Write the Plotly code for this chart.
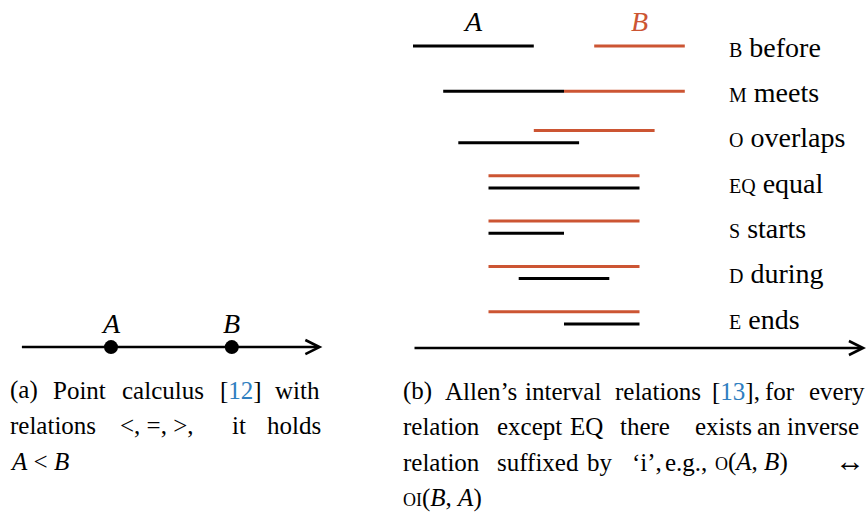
import plotly.graph_objects as go

# ---------------- data ----------------
# (a) point calculus: two points on a time line
point_names = ["A", "B"]
point_pos = [-10, -6]
line_a_span = [-13, -3]

# (b) Allen's interval relations: interval endpoints (time units)
rel_abbrev = ["B", "M", "O", "EQ", "S", "D", "E"]
rel_names = ["before", "meets", "overlaps", "equal", "starts", "during", "ends"]
A_start = [0, 1, 1.5, 2.5, 2.5, 3.5, 5]
A_end = [4, 5, 5.5, 7.5, 5, 6.5, 7.5]
B_start = [6, 5, 4, 2.5, 2.5, 2.5, 2.5]
B_end = [9, 9, 8, 7.5, 7.5, 7.5, 7.5]
line_b_span = [0, 15]

# ---------------- style ----------------
RED = "#CC5533"
BLACK = "#000000"
FONT = "Liberation Serif"
W, H = 867, 520
PX_PER_UNIT = 30.2
X0_PX = 413
ROW_PX = 45.3
Y0_PX = 46
OFF = 0.135          # vertical separation of stacked intervals (rows)
AXIS_ROW = 6.667

xr = [(0 - X0_PX) / PX_PER_UNIT, (W - X0_PX) / PX_PER_UNIT]
yr = [(H - Y0_PX) / ROW_PX, (0 - Y0_PX) / ROW_PX]

fig = go.Figure()

# intervals
for i in range(len(rel_names)):
    overlap = A_end[i] > B_start[i]
    yb = i - OFF if overlap else i
    ya = i + OFF if overlap else i
    fig.add_trace(go.Scatter(x=[B_start[i], B_end[i]], y=[yb, yb], mode="lines",
                             line=dict(color=RED, width=3), showlegend=False, hoverinfo="skip"))
    fig.add_trace(go.Scatter(x=[A_start[i], A_end[i]], y=[ya, ya], mode="lines",
                             line=dict(color=BLACK, width=3), showlegend=False, hoverinfo="skip"))
    sc = rel_abbrev[i]
    fig.add_annotation(x=10.4, y=i + 0.03, xref="x", yref="y", xanchor="left", yanchor="middle",
                       text=f"<span style='font-size:20px'>{sc}</span> {rel_names[i]}",
                       showarrow=False, font=dict(family=FONT, size=28, color=BLACK))

# A / B labels over first row
fig.add_annotation(x=(A_start[0] + A_end[0]) / 2, y=-0.53, xref="x", yref="y",
                   text="<i>A</i>", showarrow=False, font=dict(family=FONT, size=28, color=BLACK))
fig.add_annotation(x=(B_start[0] + B_end[0]) / 2, y=-0.53, xref="x", yref="y",
                   text="<i>B</i>", showarrow=False, font=dict(family=FONT, size=28, color=RED))

# time arrows
for span, yy in [(line_a_span, AXIS_ROW - 0.02), (line_b_span, AXIS_ROW)]:
    fig.add_annotation(x=span[1], y=yy, ax=span[0], ay=yy, xref="x", yref="y",
                       axref="x", ayref="y", text="", showarrow=True,
                       arrowhead=5, arrowwidth=2.5, arrowsize=1.1, arrowcolor=BLACK, standoff=0)

# points
fig.add_trace(go.Scatter(x=point_pos, y=[AXIS_ROW - 0.02] * 2, mode="markers",
                         marker=dict(color=BLACK, size=14), showlegend=False, hoverinfo="skip"))
for n, p in zip(point_names, point_pos):
    fig.add_annotation(x=p, y=AXIS_ROW - 0.55, xref="x", yref="y", text=f"<i>{n}</i>",
                       showarrow=False, font=dict(family=FONT, size=28, color=BLACK))

# ---------------- captions ----------------
CAP = 25
BLUE = "#2E7EC0"
def word(txt, xpx, ypx, anchor="left", size=CAP):
    fig.add_annotation(x=xpx / W, y=1 - ypx / H, xref="paper", yref="paper",
                       xanchor=anchor, yanchor="middle", text=txt, showarrow=False,
                       borderpad=0, font=dict(family=FONT, size=size, color=BLACK))

sc = lambda s: f"<span style='font-size:18px'>{s}</span>"

cap_a = [
    [("(a)", 10), ("Point", 53), ("calculus", 122), (f"[<span style='color:{BLUE}'>12</span>]", 220), ("with", 275)],
    [("relations", 10), ("&lt;, =, &gt;,", 120), ("it", 232), ("holds", 267)],
    [("<i>A</i> &lt; <i>B</i>", 10)],
]
cap_b = [
    [("(b)", 403), ("Allen’s", 445), ("interval", 525), ("relations", 615),
     (f"[<span style='color:{BLUE}'>13</span>],", 712), ("for", 765), ("every", 809)],
    [("relation", 403), ("except", 497), ("EQ", 570), ("there", 620), ("exists", 695),
     ("an", 757), ("inverse", 787)],
    [("relation", 403), ("suffixed", 497), ("by", 587), ("‘i’,", 632), ("e.g.,", 665),
     (f"{sc('O')}(<i>A</i>, <i>B</i>)", 715)],
    [(f"{sc('OI')}(<i>B</i>, <i>A</i>)", 403)],
]
for li, line in enumerate(cap_a):
    for t, xp in line:
        word(t, xp - 1, 390 + 35.5 * li)
for li, line in enumerate(cap_b):
    for t, xp in line:
        word(t, xp - 1, 391 + 35.5 * li)
# the bi-implication arrow at the end of line 3 of caption (b)
word("↔", 866, 460, anchor="right", size=30)

fig.update_xaxes(range=xr, visible=False, fixedrange=True)
fig.update_yaxes(range=yr, visible=False, fixedrange=True)
fig.update_layout(width=W, height=H, margin=dict(l=0, r=0, t=0, b=0),
                  plot_bgcolor="white", paper_bgcolor="white", showlegend=False)

fig.write_html("out.html", config={"displayModeBar": False},
               post_script="document.body.style.margin='0';document.body.style.overflow='hidden';")
